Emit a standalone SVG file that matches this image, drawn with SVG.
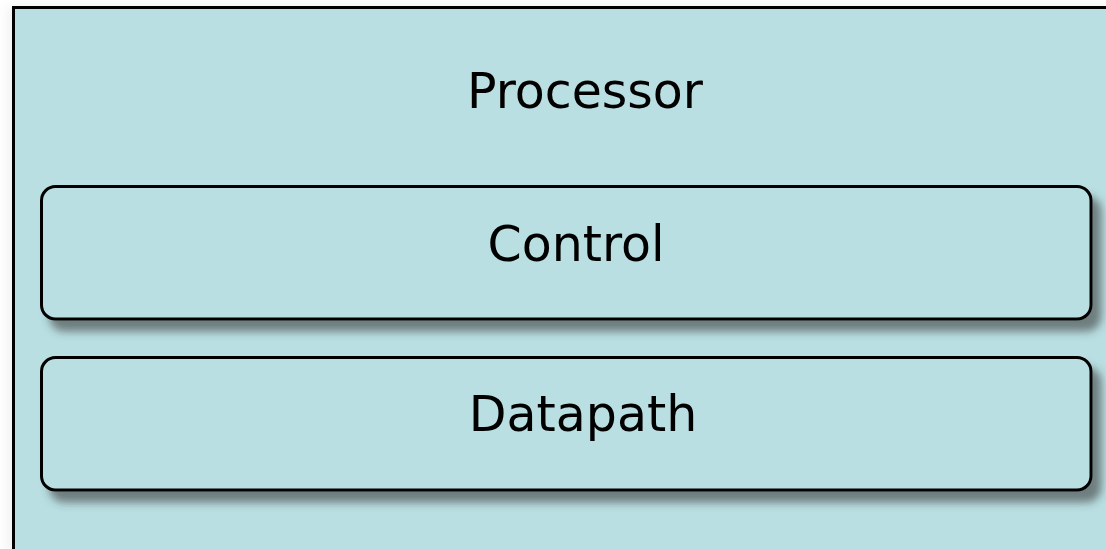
<svg xmlns="http://www.w3.org/2000/svg" width="1106" height="549" viewBox="0 0 1106 549">
<defs>
<style>
.box{fill:#b9dfe2;stroke:#000;stroke-width:3}
.lbl{font-family:"DejaVu Sans","Liberation Sans",sans-serif;font-size:49px;fill:#000;text-anchor:middle}
</style>
<filter id="sh" x="-5%" y="-20%" width="115%" height="160%">
<feGaussianBlur in="SourceAlpha" stdDeviation="4.5"/>
<feOffset dx="9" dy="11" result="b"/>
<feFlood flood-color="#3c3c3c" flood-opacity="0.6"/>
<feComposite in2="b" operator="in"/>
<feMerge><feMergeNode/><feMergeNode in="SourceGraphic"/></feMerge>
</filter>
<filter id="osh" x="-5%" y="-5%" width="110%" height="110%">
<feGaussianBlur in="SourceAlpha" stdDeviation="6"/>
<feOffset dx="-4" dy="0" result="b"/>
<feFlood flood-color="#000" flood-opacity="0.06"/>
<feComposite in2="b" operator="in"/>
<feMerge><feMergeNode/><feMergeNode in="SourceGraphic"/></feMerge>
</filter>
</defs>
<rect width="1106" height="549" fill="#ffffff"/>
<g id="processor">
<rect class="box" x="13.5" y="7.5" width="1110" height="560" filter="url(#osh)"/>
<text class="lbl" x="585" y="108">Processor</text>
</g>
<g id="control">
<rect class="box" x="41.5" y="186.5" width="1049.5" height="132.5" rx="14" filter="url(#sh)"/>
<text class="lbl" x="576" y="261">Control</text>
</g>
<g id="datapath">
<rect class="box" x="41.5" y="357.5" width="1049.5" height="132.5" rx="14" filter="url(#sh)"/>
<text class="lbl" x="583" y="431">Datapath</text>
</g>
<g id="connectors"/>
</svg>
